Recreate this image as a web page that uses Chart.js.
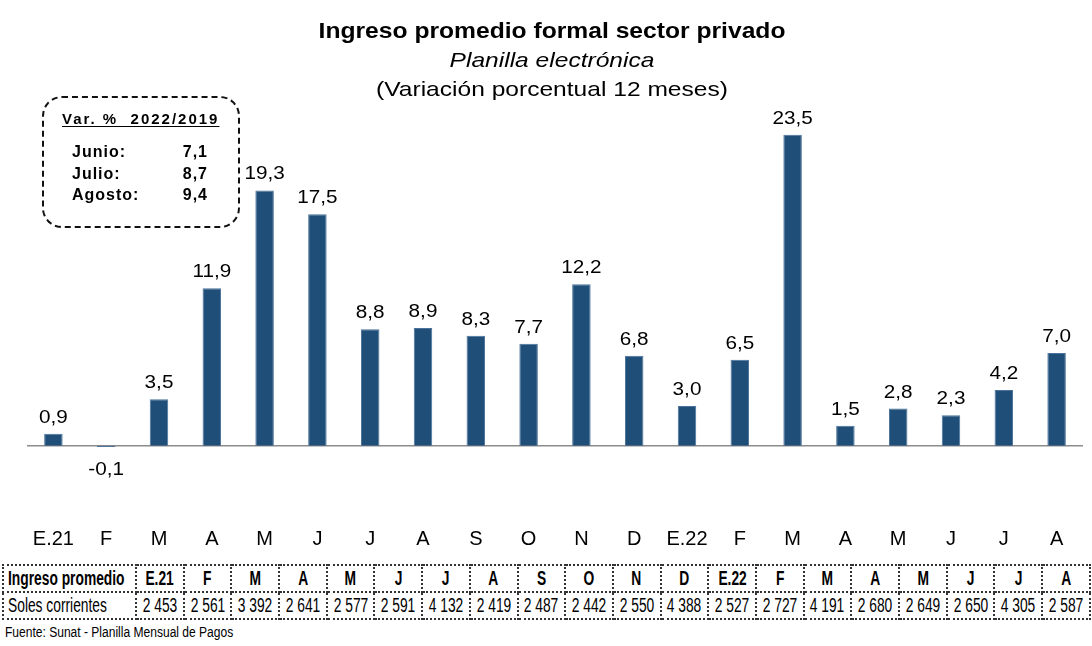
<!DOCTYPE html>
<html>
<head>
<meta charset="utf-8">
<script src="https://cdn.jsdelivr.net/npm/chart.js@4.4.1/dist/chart.umd.min.js"></script>
<style>
  body { margin: 0; background: #fff; }
  #wrap { position: relative; width: 1092px; height: 646px; overflow: hidden; font-family: "Liberation Sans", Arial, sans-serif; }
  #chart { position: absolute; left: 0; top: 0; }
  .titulo { position: absolute; left: 0; width: 1104px; text-align: center; color: #000; white-space: nowrap; }
  #t1 { top: 18px; font-size: 22px; font-weight: bold; transform: scaleX(1.12); }
  #t2 { top: 48px; font-size: 21px; font-style: italic; transform: scaleX(1.17); }
  #t3 { top: 77px; font-size: 21px; transform: scaleX(1.17); }
  #caja { position: absolute; left: 42px; top: 96px; width: 194px; height: 128px; border: 2.5px dashed #111; border-radius: 20px; }
  #caja .enc { position: absolute; left: 18px; top: 12px; font-size: 15px; font-weight: bold; letter-spacing: 2px; text-decoration: underline; text-underline-offset: 2px; white-space: pre; }
  #caja .fila { position: absolute; left: 28px; width: 136px; font-size: 16px; font-weight: bold; letter-spacing: 1px; }
  #caja .fila span { position: absolute; right: 0; top: 0; }
  #tabla { position: absolute; left: 2px; top: 564px; border-collapse: collapse; table-layout: fixed; font-size: 20px; color: #000; }
  #tabla td { border: 2px dotted #333; height: 25px; padding: 0; text-align: center; white-space: nowrap; overflow: hidden; line-height: 23px; }
  #tabla tr:first-child td { font-weight: bold; }
  #tabla td .s { display: inline-block; transform: scaleX(0.69); margin: 0 -15px; }
  #tabla td.izq { text-align: left; padding-left: 4px; }
  #tabla td.izq .s { transform-origin: left center; margin: 0 -60px 0 0; }
  #fuente { position: absolute; left: 5px; top: 624px; font-size: 14px; color: #000; transform: scaleX(0.86); transform-origin: left center; white-space: nowrap; }
</style>
</head>
<body>
<div id="wrap">
  <canvas id="chart" width="1092" height="560"></canvas>
  <div class="titulo" id="t1">Ingreso promedio formal sector privado</div>
  <div class="titulo" id="t2">Planilla electrónica</div>
  <div class="titulo" id="t3">(Variación porcentual 12 meses)</div>
  <div id="caja"></div>
  <table id="tabla"></table>
  <div id="fuente">Fuente: Sunat - Planilla Mensual de Pagos</div>
</div>
<script>
// Datos
const meses = ['E.21', 'F', 'M', 'A', 'M', 'J', 'J', 'A', 'S', 'O', 'N', 'D', 'E.22', 'F', 'M', 'A', 'M', 'J', 'J', 'A'];
const variacion = [0.9, -0.1, 3.5, 11.9, 19.3, 17.5, 8.8, 8.9, 8.3, 7.7, 12.2, 6.8, 3.0, 6.5, 23.5, 1.5, 2.8, 2.3, 4.2, 7.0];
const ingresoSoles = [2453, 2561, 3392, 2641, 2577, 2591, 4132, 2419, 2487, 2442, 2550, 4388, 2527, 2727, 4191, 2680, 2649, 2650, 4305, 2587];
const varMeses = ['Junio:', 'Julio:', 'Agosto:'];
const var2022_2019 = [7.1, 8.7, 9.4];

const coma = v => v.toFixed(1).replace('.', ',');
const miles = n => String(n).replace(/\B(?=(\d{3})+(?!\d))/g, ' ');

// Caja de variación 2022/2019
const caja = document.getElementById('caja');
caja.innerHTML = '<div class="enc">Var. %  2022/2019</div>';
varMeses.forEach((m, i) => {
    const fila = document.createElement('div');
    fila.className = 'fila';
    fila.style.top = (45 + i * 21.5) + 'px';
    fila.innerHTML = m + '<span>' + coma(var2022_2019[i]) + '</span>';
    caja.appendChild(fila);
});

// Tabla de ingreso promedio
const tabla = document.getElementById('tabla');
const fila1 = tabla.insertRow();
const fila2 = tabla.insertRow();
const celda = (fila, txt, ancho) => {
    const c = fila.insertCell();
    c.innerHTML = '<span class="s">' + txt + '</span>';
    if (ancho) c.style.width = ancho + 'px';
    return c;
};
celda(fila1, 'Ingreso promedio', 127).className = 'izq';
celda(fila2, 'Soles corrientes').className = 'izq';
meses.forEach((m, i) => {
    celda(fila1, m, 45.7);
    celda(fila2, miles(ingresoSoles[i]));
});

// Etiquetas de valor y linea cero
const etiquetas = {
    id: 'etiquetas',
    beforeDatasetsDraw(chart) {
        const ctx = chart.ctx;
        const y0 = chart.scales.y.getPixelForValue(0);
        ctx.save();
        ctx.strokeStyle = '#8c8c8c';
        ctx.lineWidth = 1.5;
        ctx.beginPath();
        ctx.moveTo(chart.chartArea.left, y0);
        ctx.lineTo(chart.chartArea.right, y0);
        ctx.stroke();
        ctx.restore();
    },
    afterDatasetsDraw(chart) {
        const ctx = chart.ctx;
        ctx.save();
        ctx.font = '18px "Liberation Sans", Arial, sans-serif';
        ctx.fillStyle = '#000';
        ctx.textAlign = 'center';
        ctx.textBaseline = 'alphabetic';
        chart.getDatasetMeta(0).data.forEach((bar, i) => {
            const v = variacion[i];
            const y = v >= 0 ? bar.y - 11 : bar.base + 29;
            ctx.save();
            ctx.translate(bar.x, y);
            ctx.scale(1.15, 1);
            ctx.fillText(coma(v), 0, 0);
            ctx.restore();
        });
        ctx.restore();
    }
};

new Chart(document.getElementById('chart'), {
    type: 'bar',
    data: {
        labels: meses,
        datasets: [{
            data: variacion,
            backgroundColor: '#1f4e79',
            borderColor: '#4a729a',
            borderWidth: 1,
            barPercentage: 0.35,
            categoryPercentage: 1
        }]
    },
    options: {
        responsive: false,
        animation: false,
        devicePixelRatio: 1,
        layout: { padding: { left: 27, right: 9, top: 115, bottom: 7 } },
        plugins: { legend: { display: false }, tooltip: { enabled: false } },
        scales: {
            x: {
                grid: { display: false, drawTicks: false },
                border: { display: false },
                ticks: {
                    color: '#000',
                    padding: 2,
                    maxRotation: 0,
                    autoSkip: false,
                    font: { family: '"Liberation Sans", Arial, sans-serif', size: 20 }
                }
            },
            y: { display: false, min: -6, max: 25 }
        }
    },
    plugins: [etiquetas]
});
</script>
</body>
</html>
